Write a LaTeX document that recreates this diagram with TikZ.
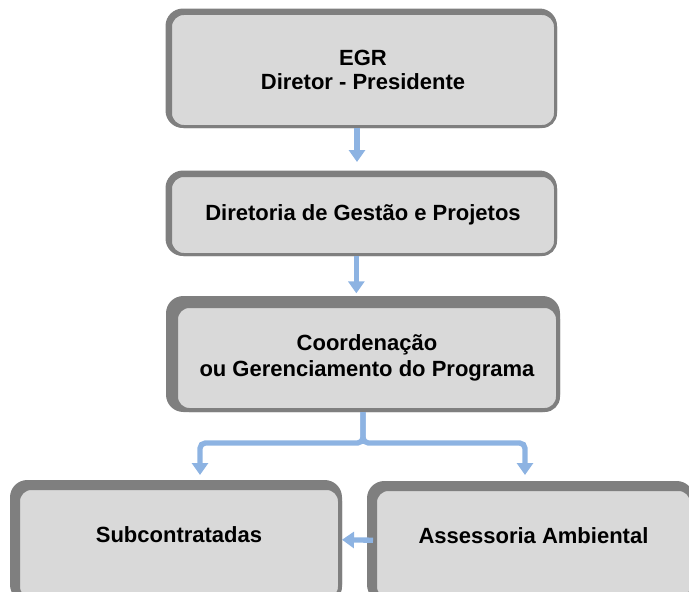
\documentclass[tikz,border=0pt]{standalone}
\usepackage{fontspec}
\setmainfont{Liberation Sans}
\usetikzlibrary{arrows.meta,backgrounds}

\definecolor{boxfill}{HTML}{D9D9D9}
\definecolor{boxframe}{HTML}{7F7F7F}
\definecolor{flowblue}{HTML}{8DB3E2}

\tikzset{
  orgbox/.style={draw=boxframe, fill=boxfill, rounded corners=10pt, align=center,
    inner sep=0pt, font=\bfseries\fontsize{16.5}{17.5}\selectfont},
  flow/.style={draw=flowblue, line width=4pt, -{Triangle[width=12pt,length=9pt]}}
}

\begin{document}
\begin{tikzpicture}[x=0.75pt,y=-0.75pt]
\clip (0,0) rectangle (689,592);

% Boxes
\node[orgbox, line width=2.25pt, minimum width=288.75pt, minimum height=84.75pt] (egr) at (363,70) {EGR\\Diretor - Presidente};
\node[orgbox, line width=2.25pt, minimum width=288.75pt, minimum height=59.25pt] (dgp) at (363,215) {Diretoria de Gestão e Projetos};
\node[orgbox, line width=3pt, minimum width=286.5pt, minimum height=78pt,
  font=\bfseries\fontsize{16.5}{20}\selectfont] (coord) at (367,358) {Coordenação\\ ou Gerenciamento do Programa};
\node[orgbox, line width=3pt, minimum width=241.5pt, minimum height=84pt,
  text height=12pt, text depth=14pt] (sub) at (179,544) {Subcontratadas};
\node[orgbox, line width=3pt, minimum width=237.75pt, minimum height=83.25pt,
  text height=12pt, text depth=14pt] (amb) at (533.5,544.5) {Assessoria Ambiental};

% Thick frame on the top and left side
\begin{scope}[on background layer]
\foreach \b/\d in {egr/2.6pt, dgp/2.6pt, coord/6pt, sub/4.5pt, amb/4.5pt}
  \fill[boxframe, rounded corners=13pt] ([xshift=-\d,yshift=\d]\b.north west) rectangle (\b.south east);
\end{scope}

% Fork below the coordination
\coordinate (fork) at (363,443);
\coordinate (lefttip) at (200,475);
\coordinate (righttip) at (525,475);

% Arrows
\draw[flow] ([xshift=-4.5pt]egr.south) -- ([xshift=-4.5pt,yshift=9pt]egr.south |- dgp.north);
\draw[flow] ([xshift=-5pt]dgp.south) -- ([xshift=-5pt,yshift=8pt]dgp.south |- coord.north);
\draw[flow, rounded corners=4pt] (coord.south -| fork) -- (fork) -| (lefttip);
\draw[flow, rounded corners=4pt] (coord.south -| fork) -- (fork) -| (righttip);
\draw[flow] ([yshift=3.2pt]amb.west) -- ([yshift=3.2pt]sub.east);

\end{tikzpicture}
\end{document}
